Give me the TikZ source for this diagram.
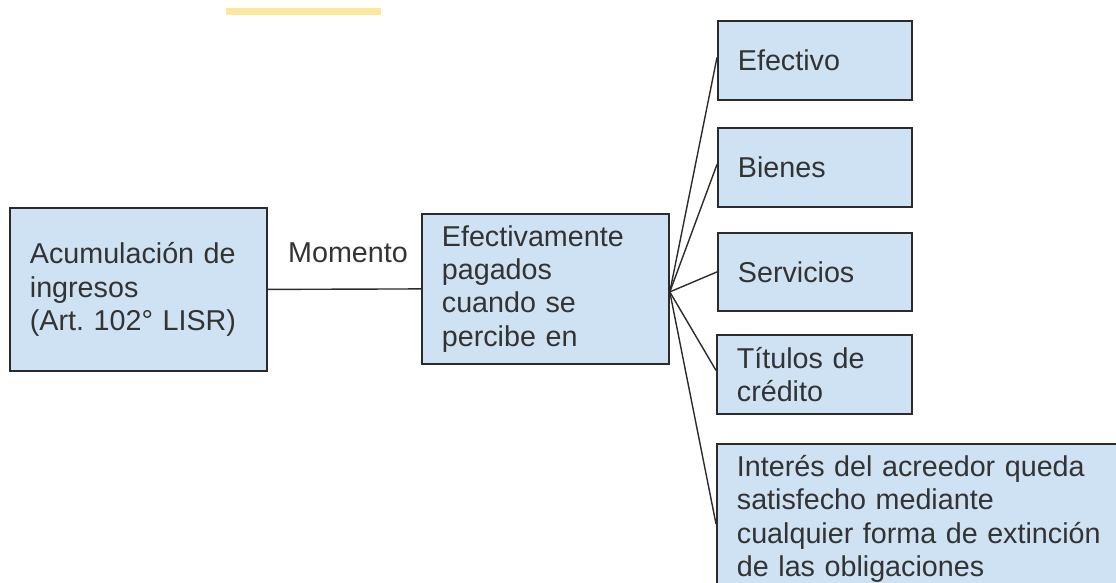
\documentclass[tikz,border=0pt]{standalone}
\usepackage{fontspec}
\setmainfont{Liberation Sans}
\frenchspacing
\definecolor{boxfill}{HTML}{CFE2F3}
\definecolor{boxline}{HTML}{2B2B2B}
\definecolor{txt}{HTML}{333333}
\definecolor{hl}{HTML}{FCE6A0}
\begin{document}
\begin{tikzpicture}[x=1pt,y=-1pt,
  box/.style={draw=boxline, line width=1.8pt, fill=boxfill, text=txt,
    inner xsep=20pt, inner ysep=0pt, align=left, anchor=north west,
    font=\fontsize{28.7}{33.2}\selectfont},
  link/.style={draw=boxline, line width=1.4pt},
  lbl/.style={text=txt, inner sep=0pt, font=\fontsize{28.7}{33.2}\selectfont}]
\useasboundingbox (0,0) rectangle (1116,582);
\clip (0,0) rectangle (1116,582);
\fill[hl] (226,8) rectangle (381,15);

\node[box, text width=217pt, minimum height=163pt] (acc) at (9,207)
  {Acumulación de\\ingresos\\(Art. 102° LISR)};
\node[box, text width=207pt, minimum height=150pt] (efp) at (421,213)
  {Efectivamente\\pagados\\cuando se\\percibe en};
\node[box, text width=154pt, minimum height=79pt] (efe) at (717,20) {Efectivo};
\node[box, text width=154pt, minimum height=79pt] (bie) at (717,127) {Bienes};
\node[box, text width=154pt, minimum height=78pt] (ser) at (717,232) {Servicios};
\node[box, text width=155pt, minimum height=79pt] (tit) at (716,334) {Títulos de\\crédito};
\node[box, text width=370pt, minimum height=150pt] (int) at (716,443)
  {Interés del acreedor queda\\satisfecho mediante\\cualquier forma de extinción\\de las obligaciones};

\node[lbl, anchor=base] (mom) at (348,262) {Momento};

\draw[link] (acc.east) -- (efp.west);
\coordinate (hub) at ([yshift=-3pt]efp.east);
\draw[link] (hub) -- ([yshift=3pt]efe.west);
\draw[link] (hub) -- ([yshift=3pt]bie.west);
\draw[link] (hub) -- (ser.west);
\draw[link] (hub) -- ([yshift=4pt]tit.west);
\draw[link] (hub) -- ([yshift=-5pt]int.west);
\end{tikzpicture}
\end{document}
